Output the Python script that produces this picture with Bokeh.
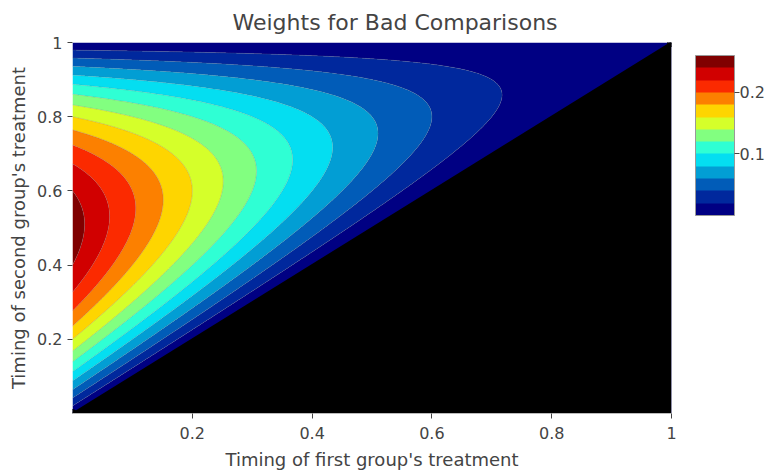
import numpy as np
from bokeh.plotting import figure
from bokeh.models import ColorBar, LinearColorMapper, FixedTicker
from bokeh.embed import file_html
from bokeh.resources import INLINE

# ---- data ----
title_text = "Weights for Bad Comparisons"
x_label = "Timing of first group's treatment"
y_label = "Timing of second group's treatment"

# grid of treatment timings (first group on x, second group on y)
first_timing = np.linspace(0.0, 1.0, 401)
second_timing = np.linspace(0.0, 1.0, 401)
# weight surface of the bad comparison (later treated vs already treated)
X, Y = np.meshgrid(first_timing, second_timing)
weights = (Y - X) * (1.0 - Y)

contour_levels = [-2.0, 0.02, 0.04, 0.06, 0.08, 0.10, 0.12, 0.14,
                  0.16, 0.18, 0.20, 0.22, 0.24, 2.0]
colorbar_low = 0.0087
colorbar_high = 0.2527
colorbar_ticks = [0.1, 0.2]
x_ticks = [0.2, 0.4, 0.6, 0.8, 1.0]
y_ticks = [0.2, 0.4, 0.6, 0.8, 1.0]
diag_x = [0.0, 1.0]
diag_y = [0.0, 1.0]
floor_y = [0.0, 0.0]

# ---- style: plotly "Jet" scale sampled for 13 bands ----
jet_stops = [(0.0, (0, 0, 131)), (0.125, (0, 60, 170)), (0.375, (5, 255, 255)),
             (0.625, (255, 255, 0)), (0.875, (250, 0, 0)), (1.0, (128, 0, 0))]


def jet(t):
    for (t0, c0), (t1, c1) in zip(jet_stops[:-1], jet_stops[1:]):
        if t <= t1 + 1e-12:
            f = (t - t0) / (t1 - t0)
            return "#%02x%02x%02x" % tuple(int(round(a + (b - a) * f)) for a, b in zip(c0, c1))
    return "#800000"


n_bands = len(contour_levels) - 1
band_colors = [jet(k / (n_bands - 1)) for k in range(n_bands)]

FONT = "DejaVu Sans"
TXT = "#444444"

p = figure(width=767, height=474, x_range=(0, 1), y_range=(0, 1),
           output_backend="svg", toolbar_location=None,
           min_border_left=72, min_border_top=42, min_border_bottom=61,
           min_border_right=96, title=title_text)
p.title.text_font = FONT
p.title.text_font_size = "22px"
p.title.text_font_style = "normal"
p.title.text_color = TXT
p.title.align = "left"
p.title.offset = 160
p.title.standoff = 15
p.outline_line_color = None
p.grid.visible = False

p.contour(first_timing, second_timing, weights, levels=contour_levels,
          fill_color=band_colors, line_color="#777777", line_alpha=0.5,
          line_width=0.5)

p.varea(x=diag_x, y1=floor_y, y2=diag_y, fill_color="black")
p.line(diag_x, diag_y, line_color="black", line_width=2)
p.scatter(diag_x, diag_y, size=8, color="black")

for ax, ticks, lab in ((p.xaxis[0], x_ticks, x_label), (p.yaxis[0], y_ticks, y_label)):
    ax.ticker = FixedTicker(ticks=ticks)
    ax.major_label_overrides = {1.0: "1"}
    ax.axis_label = lab
    ax.axis_label_text_font = FONT
    ax.axis_label_text_font_size = "18px"
    ax.axis_label_text_font_style = "normal"
    ax.axis_label_text_color = TXT
    ax.major_label_text_font = FONT
    ax.major_label_text_font_size = "16px"
    ax.major_label_text_color = TXT
    ax.major_tick_in = 0
    ax.major_tick_out = 5
    ax.major_tick_line_color = TXT
    ax.minor_tick_line_color = None
    ax.major_label_standoff = 5
    ax.axis_label_standoff = 5
p.xaxis.axis_line_color = "#bbbbbb"
p.yaxis.axis_line_color = None
p.xaxis.major_label_standoff = 8
p.xaxis.axis_label_standoff = 7

mapper = LinearColorMapper(palette=band_colors, low=0.0, high=0.26)
cb = ColorBar(color_mapper=mapper, ticker=FixedTicker(ticks=colorbar_ticks),
              display_low=colorbar_low, display_high=colorbar_high,
              width=39, height=160, location=(24, 198), padding=0, margin=0,
              major_label_text_font=FONT, major_label_text_font_size="16px",
              major_label_text_color=TXT, major_tick_in=0, major_tick_out=5,
              major_tick_line_color=TXT, minor_tick_line_color=None,
              label_standoff=0, bar_line_color="#999999",
              border_line_color=None, background_fill_color=None)
p.add_layout(cb, "right")

open("out.html", "w").write(file_html(p, INLINE))
